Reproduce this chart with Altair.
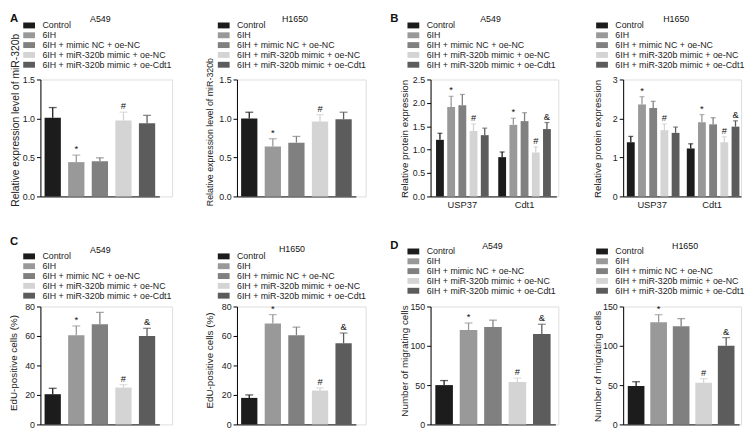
import altair as alt
import pandas as pd

# ---------------- data ----------------
groups = ["Control", "6IH", "6IH + mimic NC + oe-NC",
          "6IH + miR-320b mimic + oe-NC", "6IH + miR-320b mimic + oe-Cdt1"]
colors = ["#1c1c1c", "#999999", "#808080", "#d4d4d4", "#5c5c5c"]
genes = ["USP37", "Cdt1"]

a_a549_mean = [1.01, 0.44, 0.45, 0.975, 0.94]
a_a549_err = [0.13, 0.09, 0.045, 0.105, 0.10]
a_h1650_mean = [1.0, 0.64, 0.69, 0.96, 0.99]
a_h1650_err = [0.08, 0.10, 0.08, 0.09, 0.09]
a_marks = ["", "*", "", "#", ""]

b_a549_usp37_mean = [1.21, 1.91, 1.95, 1.40, 1.31]
b_a549_usp37_err = [0.14, 0.23, 0.23, 0.15, 0.15]
b_a549_cdt1_mean = [0.84, 1.53, 1.61, 0.94, 1.44]
b_a549_cdt1_err = [0.11, 0.14, 0.18, 0.12, 0.14]
b_h1650_usp37_mean = [1.39, 2.36, 2.27, 1.70, 1.63]
b_h1650_usp37_err = [0.15, 0.20, 0.17, 0.16, 0.15]
b_h1650_cdt1_mean = [1.23, 1.90, 1.85, 1.39, 1.79]
b_h1650_cdt1_err = [0.12, 0.20, 0.17, 0.14, 0.15]
b_usp37_marks = ["", "*", "", "#", ""]
b_cdt1_marks = ["", "*", "", "#", "&"]

c_a549_mean = [20.5, 60.5, 68, 25, 60]
c_a549_err = [4, 6.3, 8, 2, 5.2]
c_h1650_mean = [18, 68.5, 60.5, 23, 55]
c_h1650_err = [2, 6, 5.5, 1.8, 7]
d_a549_mean = [50, 120, 124, 54, 115]
d_a549_err = [5.8, 9, 8.6, 4.9, 12.4]
d_h1650_mean = [49, 130, 125, 53, 100]
d_h1650_err = [5.3, 9.6, 9.6, 5.3, 10.4]
cd_marks = ["", "*", "", "#", "&"]

FONT = "Liberation Sans"
TXT = "#222222"
# wide swatch: 12 x 6 px when symbolSize = 64 (scale = sqrt(64)/2 = 4)
RECT = "M-1.5,-0.75L1.5,-0.75L1.5,0.75L-1.5,0.75Z"


def color_enc(lx, ly):
    # lx: left edge of swatch, ly: centre of first row (relative to plot)
    return alt.Color(
        "group:N", sort=groups,
        scale=alt.Scale(domain=groups, range=colors),
        legend=alt.Legend(
            title=None, orient="none", legendX=lx + 2, legendY=ly - 6.5,
            symbolType=RECT, symbolSize=64, symbolStrokeWidth=0,
            symbolOpacity=1, labelFontSize=9, labelFont=FONT,
            labelColor=TXT, labelLimit=400, labelOffset=9,
            rowPadding=-1.4, padding=0),
    )


def label(text, x, y, size, weight="normal", align="center", baseline="middle"):
    return alt.Chart(pd.DataFrame({"t": [text]})).mark_text(
        font=FONT, fontSize=size, fontWeight=weight, align=align,
        baseline=baseline, color="#111111",
    ).encode(text="t:N", x=alt.value(x), y=alt.value(y))


def y_axis(vals, fmt, title, tx, ty, tsize):
    return alt.Axis(values=vals, format=fmt, title=title, titleX=tx, titleY=ty,
                    titleFontSize=tsize, titleFont=FONT, titleColor=TXT,
                    titleFontWeight="normal", labelFont=FONT, labelFontSize=9,
                    labelColor=TXT, labelPadding=2, tickSize=4, tickColor="black",
                    domainColor="black", domainWidth=1, tickWidth=1, grid=False)


def panel(df, xenc, xoff, ymax, yax, col, width, height, cap, extras):
    yscale = alt.Scale(domain=[0, ymax], nice=False, zero=True)
    base = alt.Chart(df)

    def enc(field, **kw):
        d = dict(x=xenc, y=alt.Y(field, scale=yscale, axis=yax), **kw)
        if xoff is not None:
            d["xOffset"] = xoff
        return d

    bars = base.mark_bar().encode(**enc("mean:Q", color=col))
    rules = base.mark_rule(strokeWidth=1.3).encode(**enc("mean:Q", y2="upper:Q", color=col))
    caps = base.mark_tick(thickness=1.3, size=cap).encode(**enc("upper:Q", color=col))
    ann = base.mark_text(font=FONT, fontSize=9.5, baseline="bottom", dy=-1,
                         color="#111111").encode(**enc("upper:Q", text="mark:N"))
    return alt.layer(bars, rules, caps, ann, *extras).properties(width=width, height=height)


def simple(mean, err, marks, rng, pi, po, width, height, ymax, yvals, yfmt,
           ytitle, tx, ty, tsize, lx, ly, extras, cap=8):
    df = pd.DataFrame({"group": groups, "mean": mean,
                       "upper": [m + e for m, e in zip(mean, err)], "mark": marks})
    xenc = alt.X("group:N", sort=groups,
                 scale=alt.Scale(domain=groups, range=[0, rng], paddingInner=pi, paddingOuter=po),
                 axis=alt.Axis(title=None, labels=False, ticks=False,
                               domainColor="black", domainWidth=1))
    yax = y_axis(yvals, yfmt, ytitle, tx, ty, tsize)
    return panel(df, xenc, None, ymax, yax, color_enc(lx, ly), width, height, cap, extras)


def grouped(m1, e1, k1, m2, e2, k2, rng, pi, po, pi2, po2, width, height, ymax,
            yvals, yfmt, ytitle, tx, ty, tsize, lx, ly, extras, cap=5):
    df = pd.DataFrame({
        "gene": [genes[0]] * 5 + [genes[1]] * 5,
        "group": groups + groups,
        "mean": m1 + m2,
        "upper": [m + e for m, e in zip(m1 + m2, e1 + e2)],
        "mark": k1 + k2,
    })
    xenc = alt.X("gene:N", sort=genes,
                 scale=alt.Scale(domain=genes, range=[0, rng], paddingInner=pi, paddingOuter=po),
                 axis=alt.Axis(title=None, ticks=False, labelAngle=0, labelFont=FONT,
                               labelFontSize=9.5, labelColor=TXT, labelPadding=3,
                               domainColor="black", domainWidth=1))
    xoff = alt.XOffset("group:N", sort=groups,
                       scale=alt.Scale(domain=groups, paddingInner=pi2, paddingOuter=po2))
    yax = y_axis(yvals, yfmt, ytitle, tx, ty, tsize)
    return panel(df, xenc, xoff, ymax, yax, color_enc(lx, ly), width, height, cap, extras)


W1, W2, W3, W4 = 134, 131, 130, 120
H1, H2 = 119, 120
T_A = "Relative expression level of miR-320b"
T_B = "Relative protein expression"
T_C = "EdU-positive cells (%)"
T_D = "Number of migrating cells"

pA1 = simple(a_a549_mean, a_a549_err, a_marks, 121, 0.31, 0.176, W1, H1, 1.5,
             [0, 0.5, 1.0, 1.5], ".1f", T_A, -20, 41, 10.5, -18, -53,
             [label("A549", 61, -61, 9),
              label("A", -31, -68, 11.5, "bold", "left", "top")])
pA2 = simple(a_h1650_mean, a_h1650_err, a_marks, 121, 0.31, 0.176, W2, H1, 1.5,
             [0, 0.5, 1.0, 1.5], ".1f", T_A, -23, 53, 9, -20, -53,
             [label("H1650", 59, -61, 9)])
pB1 = grouped(b_a549_usp37_mean, b_a549_usp37_err, b_usp37_marks,
              b_a549_cdt1_mean, b_a549_cdt1_err, b_cdt1_marks,
              128, 0.1, 0.061, 0.3, 0.15, W3, H1, 2.5,
              [0, 0.5, 1.0, 1.5, 2.0, 2.5], ".1f", T_B, -21, 60, 10, -24, -53,
              [label("A549", 61, -61, 9),
               label("B", -41, -68, 11.5, "bold", "left", "top")])
pB2 = grouped(b_h1650_usp37_mean, b_h1650_usp37_err, b_usp37_marks,
              b_h1650_cdt1_mean, b_h1650_cdt1_err, b_cdt1_marks,
              120, 0.1, 0.034, 0.38, 0.23, W4, H1, 3,
              [0, 1, 2, 3], "d", T_B, -21, 60, 10, -28, -53,
              [label("H1650", 54, -61, 9)])
pC1 = simple(c_a549_mean, c_a549_err, cd_marks, 121, 0.31, 0.176, W1, H2, 80,
             [0, 20, 40, 60, 80], "d", T_C, -22, 57, 10, -18, -49,
             [label("A549", 61, -57.5, 9),
              label("C", -31, -72, 11.5, "bold", "left", "top")])
pC2 = simple(c_h1650_mean, c_h1650_err, cd_marks, 121, 0.31, 0.176, W2, H2, 80,
             [0, 20, 40, 60, 80], "d", T_C, -23, 54.5, 10, -20, -49,
             [label("H1650", 56, -58, 9)])
pD1 = simple(d_a549_mean, d_a549_err, cd_marks, 127, 0.28, 0.195, W3, H2, 150,
             [0, 50, 100, 150], "d", T_D, -21, 55, 10, -24, -54,
             [label("A549", 63, -62, 9),
              label("D", -41, -67, 11.5, "bold", "left", "top")])
pD2 = simple(d_h1650_mean, d_h1650_err, cd_marks, 118, 0.26, 0.205, W4, H2, 150,
             [0, 50, 100, 150], "d", T_D, -21, 60.5, 10, -28, -54,
             [label("H1650", 63, -62, 9)])

chart = alt.concat(
    pA1, pA2, pB1, pB2, pC1, pC2, pD1, pD2,
    columns=4, spacing={"row": 112, "column": 66}, bounds="flush",
).resolve_scale(color="independent").resolve_legend(color="independent").properties(
    padding=0
).configure_view(strokeWidth=0).configure(font=FONT, background="white")

chart.save("out.html", embed_options={"renderer": "svg", "actions": False})
